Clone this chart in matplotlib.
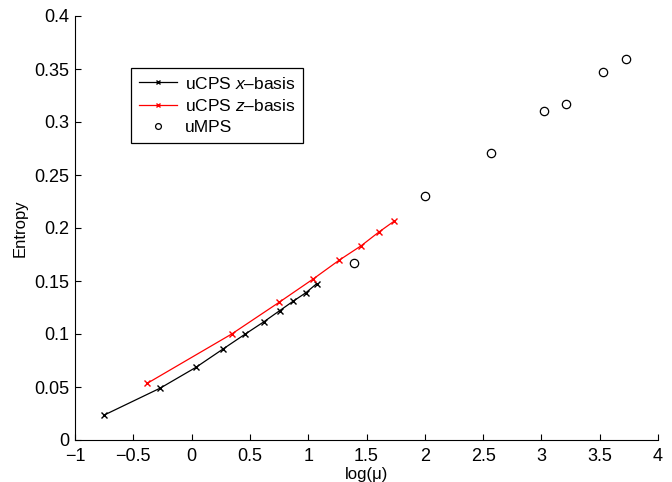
import matplotlib
matplotlib.use("Agg")
from matplotlib import pyplot as plt

plt.rcParams['font.family'] = ['Liberation Sans', 'DejaVu Sans']
plt.rcParams['font.size'] = 11
plt.rcParams['mathtext.fontset'] = 'custom'
plt.rcParams['mathtext.rm'] = 'Liberation Sans'
plt.rcParams['mathtext.it'] = 'Liberation Sans:italic'

# uCPS, x-basis
x_xb = [-0.754, -0.268, 0.038, 0.269, 0.461, 0.621, 0.755, 0.872, 0.981, 1.073]
s_xb = [0.0233, 0.049, 0.0686, 0.0858, 0.100, 0.1116, 0.122, 0.131, 0.139, 0.1475]

# uCPS, z-basis
x_zb = [-0.380, 0.344, 0.752, 1.044, 1.264, 1.455, 1.604, 1.739]
s_zb = [0.0535, 0.100, 0.130, 0.152, 0.1695, 0.1833, 0.196, 0.2066]

# uMPS
x_mps = [1.393, 2.005, 2.565, 3.020, 3.211, 3.528, 3.726]
s_mps = [0.167, 0.230, 0.2705, 0.310, 0.3173, 0.347, 0.359]

fig = plt.figure(figsize=(6.72, 4.82), dpi=100)
ax = fig.add_axes([75/672, 42/482, 583/672, 424/482])

ax.plot(x_xb, s_xb, color='black', marker='x', markersize=5, linewidth=0.9,
        label=r'uCPS $x$–basis')
ax.plot(x_zb, s_zb, color='red', marker='x', markersize=5, linewidth=0.9,
        label=r'uCPS $z$–basis')
ax.plot(x_mps, s_mps, linestyle='none', marker='o', markersize=6,
        markerfacecolor='none', markeredgecolor='black', markeredgewidth=0.9,
        label='uMPS')

ax.set_xlim(-1, 4)
ax.set_ylim(0, 0.4)
ax.set_xticks([-1, -0.5, 0, 0.5, 1, 1.5, 2, 2.5, 3, 3.5, 4])
ax.set_xticklabels(['−1', '−0.5', '0', '0.5', '1', '1.5', '2', '2.5', '3', '3.5', '4'])
ax.set_yticks([0, 0.05, 0.1, 0.15, 0.2, 0.25, 0.3, 0.35, 0.4])
ax.set_yticklabels(['0', '0.05', '0.1', '0.15', '0.2', '0.25', '0.3', '0.35', '0.4'])
ax.tick_params(direction='in', length=4, width=0.8, labelsize=13, pad=4)
ax.tick_params(axis='x', pad=6)
ax.spines['top'].set_visible(False)
ax.spines['right'].set_visible(False)
ax.set_xlabel('log(μ)', fontsize=12, labelpad=1)
ax.set_ylabel('Entropy', fontsize=12, labelpad=5)

leg = ax.legend(loc='upper left', bbox_to_anchor=(0.096, 0.878), fancybox=False,
                edgecolor='black', framealpha=1, fontsize=12.5, handlelength=2.2,
                handletextpad=0.45, borderpad=0.45, labelspacing=0.35,
                markerscale=0.7, borderaxespad=0)
leg.get_frame().set_linewidth(0.9)

fig.savefig('out.png', dpi=100)
